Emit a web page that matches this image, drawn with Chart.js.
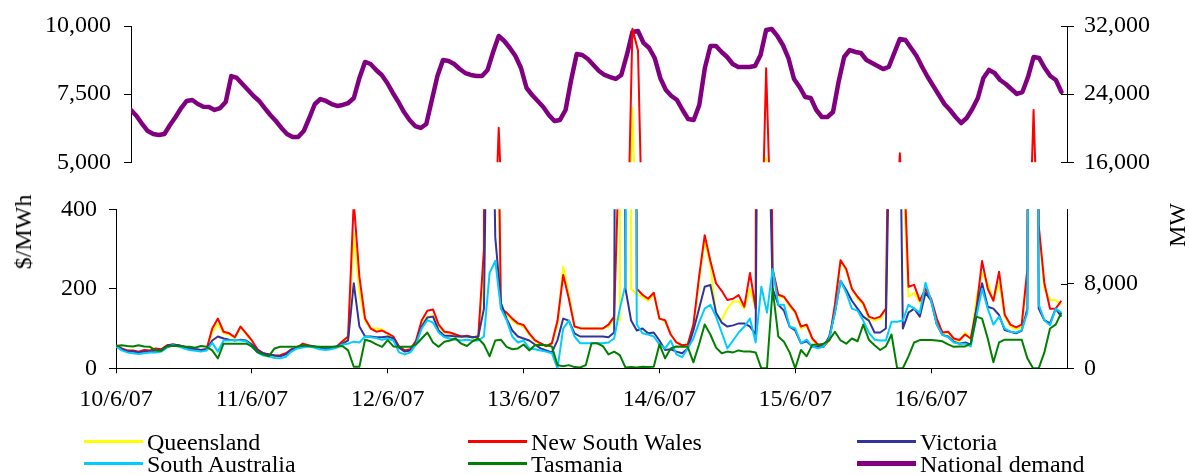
<!DOCTYPE html>
<html>
<head>
<meta charset="utf-8">
<script src="https://cdn.jsdelivr.net/npm/chart.js@4.4.1/dist/chart.umd.min.js"></script>
<style>
  html, body { margin: 0; padding: 0; background: #fff; }
  #wrap { position: relative; width: 1189px; height: 475px; overflow: hidden;
          font-family: "Liberation Serif", "Times New Roman", serif; color: #000; }
  #wrap canvas { position: absolute; left: 0; }
  #cTop { top: -4px; }
  #cBot { top: 180px; }
  .ytitle { position: absolute; font-size: 24px; line-height: 24px; white-space: nowrap;
            transform: translate(-50%, -50%) rotate(-90deg); }
  .leg { position: absolute; font-size: 24px; line-height: 24px; white-space: nowrap; }
  .swatch { position: absolute; }
</style>
</head>
<body>
<div id="wrap">
  <canvas id="cTop" width="1189" height="198"></canvas>
  <canvas id="cBot" width="1189" height="250"></canvas>
  <div class="ytitle" style="left:23px; top:232px;">$/MWh</div>
  <div class="ytitle" style="left:1177px; top:225px;">MW</div>
  <div id="legend"></div>
</div>
<script>
// Hourly spot prices ($/MWh) and national demand (MW), 10/6/07 00:00 to 16/6/07 23:00.
// One row per day, 24 hourly values per row.

const dayLabels = ['10/6/07', '11/6/07', '12/6/07', '13/6/07', '14/6/07', '15/6/07', '16/6/07'];

const qld = [
  55, 48, 44, 42, 40, 44, 43, 47, 46, 56, 58, 56, 53, 48, 46, 45, 46, 90, 112, 88, 85, 75, 105, 85,
  68, 42, 36, 34, 30, 32, 36, 46, 50, 58, 55, 52, 50, 48, 50, 53, 65, 75, 340, 190, 120, 100, 100, 98,
  85, 78, 52, 44, 46, 65, 110, 130, 132, 105, 90, 88, 83, 78, 80, 76, 78, 250, 3000, 900, 150, 135, 120, 110,
  105, 85, 68, 60, 55, 62, 110, 256, 185, 105, 100, 100, 100, 100, 100, 105, 125, 120, 7000, 200, 185, 180, 170, 185,
  125, 118, 85, 65, 58, 60, 105, 220, 320, 260, 135, 122, 150, 168, 168, 150, 200, 150, 5150, 1000, 240, 180, 178, 155,
  140, 100, 108, 72, 58, 55, 70, 150, 272, 245, 200, 175, 160, 125, 120, 125, 145, 1000, 3000, 500, 180, 190, 165, 195,
  170, 120, 88, 90, 72, 68, 90, 72, 175, 240, 215, 170, 215, 130, 105, 98, 105, 240, 2500, 350, 200, 172, 172, 160
];

const nsw = [
  58, 50, 45, 45, 42, 46, 45, 50, 48, 58, 60, 58, 55, 50, 48, 46, 48, 100, 125, 92, 88, 78, 105, 88,
  70, 48, 38, 35, 32, 33, 38, 48, 52, 62, 58, 55, 52, 50, 52, 55, 68, 80, 420, 230, 125, 100, 92, 95,
  88, 80, 55, 45, 48, 70, 120, 145, 148, 110, 92, 90, 85, 80, 82, 78, 80, 300, 6270, 1200, 150, 140, 125, 113,
  109, 88, 71, 63, 56, 63, 120, 235, 175, 105, 101, 100, 100, 100, 100, 110, 130, 600, 9900, 9100, 200, 185, 175, 190,
  125, 121, 85, 65, 58, 60, 110, 230, 335, 270, 214, 195, 172, 175, 184, 155, 240, 150, 8450, 1500, 250, 185, 180, 160,
  142, 105, 110, 75, 60, 55, 71, 160, 272, 250, 200, 180, 164, 130, 125, 130, 150, 1200, 5330, 600, 205, 210, 170, 200,
  175, 125, 90, 92, 75, 71, 85, 75, 150, 270, 200, 170, 243, 135, 110, 103, 110, 250, 6920, 360, 214, 150, 150, 170
];

const vic = [
  58, 48, 43, 42, 40, 42, 42, 45, 46, 56, 60, 58, 54, 50, 48, 46, 48, 70, 80, 75, 72, 70, 72, 70,
  60, 45, 38, 35, 32, 30, 35, 47, 52, 55, 57, 55, 52, 50, 52, 55, 62, 70, 214, 105, 80, 80, 78, 78,
  80, 75, 52, 42, 45, 65, 105, 128, 130, 95, 82, 82, 80, 80, 80, 78, 80, 150, 1200, 330, 165, 125, 95, 80,
  75, 70, 60, 50, 45, 40, 71, 125, 120, 88, 80, 80, 80, 80, 80, 78, 90, 4000, 200, 120, 95, 100, 88, 90,
  70, 46, 48, 42, 38, 50, 95, 150, 205, 210, 140, 115, 105, 108, 113, 113, 105, 85, 2000, 800, 200, 160, 145, 105,
  95, 63, 68, 55, 54, 54, 80, 140, 220, 197, 170, 150, 130, 120, 90, 90, 100, 900, 1200, 100, 140, 150, 130, 190,
  170, 110, 84, 80, 67, 62, 65, 60, 150, 214, 155, 150, 134, 96, 92, 88, 95, 150, 3000, 150, 121, 113, 150, 130
];

const sa = [
  55, 45, 40, 38, 36, 38, 40, 40, 42, 52, 58, 55, 50, 46, 44, 42, 45, 64, 42, 70, 70, 72, 70, 68,
  55, 40, 32, 30, 26, 25, 29, 42, 50, 52, 55, 52, 48, 46, 48, 52, 60, 62, 67, 65, 80, 78, 76, 72,
  75, 70, 40, 35, 40, 60, 100, 121, 115, 90, 78, 75, 72, 70, 72, 70, 70, 80, 240, 270, 150, 121, 80, 65,
  70, 50, 48, 45, 42, 38, 0, 100, 120, 80, 63, 63, 63, 63, 63, 65, 75, 150, 210, 3000, 110, 88, 85, 80,
  60, 50, 70, 35, 28, 50, 75, 115, 150, 160, 130, 90, 50, 70, 90, 105, 125, 65, 205, 140, 250, 160, 160, 105,
  100, 63, 72, 55, 50, 55, 75, 140, 220, 190, 150, 145, 120, 90, 72, 70, 70, 117, 117, 120, 160, 150, 140, 215,
  170, 110, 84, 78, 65, 62, 62, 55, 130, 200, 150, 110, 130, 100, 92, 90, 96, 140, 3000, 160, 121, 108, 150, 140
];

const tas = [
  56, 58, 56, 55, 58, 55, 54, 45, 44, 55, 56, 57, 55, 54, 52, 56, 54, 45, 25, 62, 62, 62, 62, 62,
  55, 40, 35, 30, 50, 54, 54, 54, 55, 58, 56, 55, 54, 54, 54, 55, 56, 45, 4, 4, 72, 68, 60, 54,
  71, 55, 54, 54, 54, 60, 75, 90, 65, 54, 67, 70, 75, 62, 56, 68, 75, 60, 30, 70, 72, 54, 48, 50,
  60, 45, 58, 59, 58, 55, 8, 5, 8, 3, 2, 8, 63, 63, 56, 35, 42, 33, 2, 3, 2, 4, 3, 4,
  60, 25, 50, 55, 54, 54, 15, 60, 110, 85, 52, 38, 42, 40, 45, 42, 42, 40, 0, 0, 200, 80, 67, 40,
  0, 46, 30, 59, 59, 62, 71, 92, 70, 62, 75, 68, 110, 72, 58, 46, 55, 85, 0, 0, 30, 65, 71, 71,
  71, 70, 68, 60, 54, 55, 55, 62, 130, 125, 75, 15, 65, 72, 72, 72, 72, 25, 0, 0, 40, 100, 110, 140
];

const demand = [
  22140, 21440, 20500, 19670, 19320, 19210, 19320, 20380, 21320, 22370, 23200, 23310, 22840, 22530, 22490, 22140, 22370, 23080, 26130, 25900, 25190, 24490, 23780, 23200,
  22370, 21550, 20850, 20030, 19320, 18970, 18970, 19670, 21200, 22840, 23430, 23200, 22840, 22610, 22730, 22960, 23550, 25900, 27780, 27540, 26840, 26250, 25310, 24140,
  23080, 21900, 20970, 20260, 20030, 20500, 23310, 26130, 28010, 27890, 27540, 26950, 26480, 26250, 26130, 26130, 26840, 28950, 30830, 30240, 29420, 28480, 27070, 24720,
  23900, 23200, 22490, 21550, 20850, 20970, 22140, 25660, 28710, 28600, 28130, 27420, 26720, 26250, 26010, 25780, 26250, 28600, 31300, 31410, 30010, 29420, 28240, 25900,
  24490, 23780, 23310, 22140, 21080, 20970, 22730, 27070, 29650, 29650, 28950, 28360, 27540, 27190, 27190, 27190, 27310, 28600, 31530, 31650, 30830, 29770, 28240, 25780,
  24840, 23670, 23550, 22140, 21320, 21320, 21900, 25430, 28360, 29180, 28950, 28830, 28010, 27660, 27310, 26950, 27190, 28830, 30480, 30360, 29420, 28480, 27190, 26010,
  24960, 23900, 22840, 22140, 21320, 20610, 21200, 22260, 23550, 25900, 26840, 26480, 25660, 25190, 24610, 24020, 24250, 26010, 28360, 28240, 27070, 26130, 25660, 24250
];

// Axis tick values
const priceTicksLow = [0, 200, 400];
const priceTicksHigh = [5000, 7500, 10000];
const mwTicksLow = [0, 8000];
const mwTicksHigh = [16000, 24000, 32000];

// ---------------------------------------------------------------------------

const HOURS_PER_DAY = 24;
const hourIndex = demand.map((_, i) => i);

const regions = [
  { label: 'Queensland',      data: qld, color: '#FFFF00' },
  { label: 'New South Wales', data: nsw, color: '#FF0000' },
  { label: 'Victoria',        data: vic, color: '#333399' },
  { label: 'South Australia', data: sa,  color: '#00CCFF' },
  { label: 'Tasmania',        data: tas, color: '#008000' }
];
const demandSeries = { label: 'National demand', data: demand, color: '#800080' };

Chart.defaults.color = '#000';
Chart.defaults.font.family = "'Liberation Serif', 'Times New Roman', serif";
Chart.defaults.font.size = 24;

const fmt = v => Number(v).toLocaleString('en-US');

function priceDatasets(axisId) {
  // later regions sit on top of earlier ones
  return regions.map((r, i) => ({
    label: r.label,
    data: r.data,
    borderColor: r.color,
    backgroundColor: r.color,
    borderWidth: 2,
    pointRadius: 0,
    tension: 0,
    borderJoinStyle: 'round',
    yAxisID: axisId,
    order: 10 - i
  }));
}

function valueAxis(position, min, max, tickValues, width, pad) {
  return {
    type: 'linear',
    position: position,
    min: min,
    max: max,
    afterBuildTicks: s => { s.ticks = tickValues.map(v => ({ value: v })); },
    afterFit: s => { s.width = width; },
    ticks: { padding: pad, callback: v => fmt(v), color: '#000' },
    grid: { drawOnChartArea: false, drawTicks: true, tickLength: 7, color: '#000', lineWidth: 1 },
    border: { display: true, color: '#000', width: 1 }
  };
}

// right-hand axes have tick marks that cross the axis line
const crossTicks = {
  id: 'crossTicks',
  afterDraw(chart) {
    const s = chart.scales.yR;
    const ctx = chart.ctx;
    ctx.save();
    ctx.strokeStyle = '#000';
    ctx.lineWidth = 1;
    s.ticks.forEach(t => {
      const y = Math.round(s.getPixelForValue(t.value)) + 0.5;
      ctx.beginPath();
      ctx.moveTo(s.left - 6, y);
      ctx.lineTo(s.left, y);
      ctx.stroke();
    });
    ctx.restore();
  }
};

const common = {
  responsive: false,
  animation: false,
  devicePixelRatio: 1,
  events: [],
  plugins: { legend: { display: false }, tooltip: { enabled: false } }
};

// Upper panel: price spikes above $5,000 and national demand
new Chart(document.getElementById('cTop'), {
  type: 'line',
  data: {
    labels: hourIndex,
    datasets: [
      ...priceDatasets('yL'),
      {
        label: demandSeries.label,
        data: demandSeries.data,
        borderColor: demandSeries.color,
        backgroundColor: demandSeries.color,
        borderWidth: 4.5,
        pointRadius: 0,
        tension: 0,
        borderJoinStyle: 'round',
        borderCapStyle: 'round',
        yAxisID: 'yR',
        order: 20
      }
    ]
  },
  options: {
    ...common,
    layout: { padding: { top: 30, bottom: 31.7, left: 0, right: 0 } },
    scales: {
      x: { type: 'linear', min: 0, max: 7 * HOURS_PER_DAY, display: false },
      yL: valueAxis('left', 5000, 10000, priceTicksHigh, 131, 13),
      yR: valueAxis('right', 16000, 32000, mwTicksHigh, 122, 10)
    }
  },
  plugins: [crossTicks]
});

// Lower panel: prices from $0 to $400
new Chart(document.getElementById('cBot'), {
  type: 'line',
  data: {
    labels: hourIndex,
    datasets: [
      ...priceDatasets('yL'),
      {
        label: demandSeries.label,
        data: demandSeries.data,
        borderColor: demandSeries.color,
        borderWidth: 4.5,
        pointRadius: 0,
        yAxisID: 'yR',
        order: 20
      }
    ]
  },
  options: {
    ...common,
    layout: { padding: { top: 29.3, bottom: 0, left: 0, right: 0 } },
    scales: {
      x: {
        type: 'linear',
        position: 'bottom',
        min: 0,
        max: 7 * HOURS_PER_DAY,
        afterBuildTicks: s => { s.ticks = dayLabels.map((_, i) => ({ value: i * HOURS_PER_DAY })); },
        afterFit: s => { s.height = 61.7; },
        ticks: {
          autoSkip: false,
          maxRotation: 0,
          padding: 12,
          color: '#000',
          callback: v => dayLabels[Math.round(v / HOURS_PER_DAY)]
        },
        grid: { drawOnChartArea: false, drawTicks: true, tickLength: 5, color: '#000', lineWidth: 1 },
        border: { display: true, color: '#000', width: 1 }
      },
      yL: valueAxis('left', 0, 400, priceTicksLow, 116, 12),
      yR: valueAxis('right', 0, 15000, mwTicksLow, 122, 10)
    }
  },
  plugins: [crossTicks]
});

// Legend: three columns, two rows
const legendItems = [
  ...regions.map(r => ({ label: r.label, color: r.color, w: 3 })),
  { label: demandSeries.label, color: demandSeries.color, w: 5 }
];
const legendCols = [147, 531, 920];
const legendRowTop = [430, 452];
const legendRowLine = [441, 463];
const legendEl = document.getElementById('legend');
legendItems.forEach((item, i) => {
  const col = i % 3, row = Math.floor(i / 3);
  const sw = document.createElement('div');
  sw.className = 'swatch';
  sw.style.left = (legendCols[col] - 63) + 'px';
  sw.style.width = '59px';
  sw.style.top = (legendRowLine[row] - item.w / 2) + 'px';
  sw.style.height = item.w + 'px';
  sw.style.background = item.color;
  legendEl.appendChild(sw);
  const tx = document.createElement('div');
  tx.className = 'leg';
  tx.style.left = legendCols[col] + 'px';
  tx.style.top = legendRowTop[row] + 'px';
  tx.textContent = item.label;
  legendEl.appendChild(tx);
});
</script>
</body>
</html>
